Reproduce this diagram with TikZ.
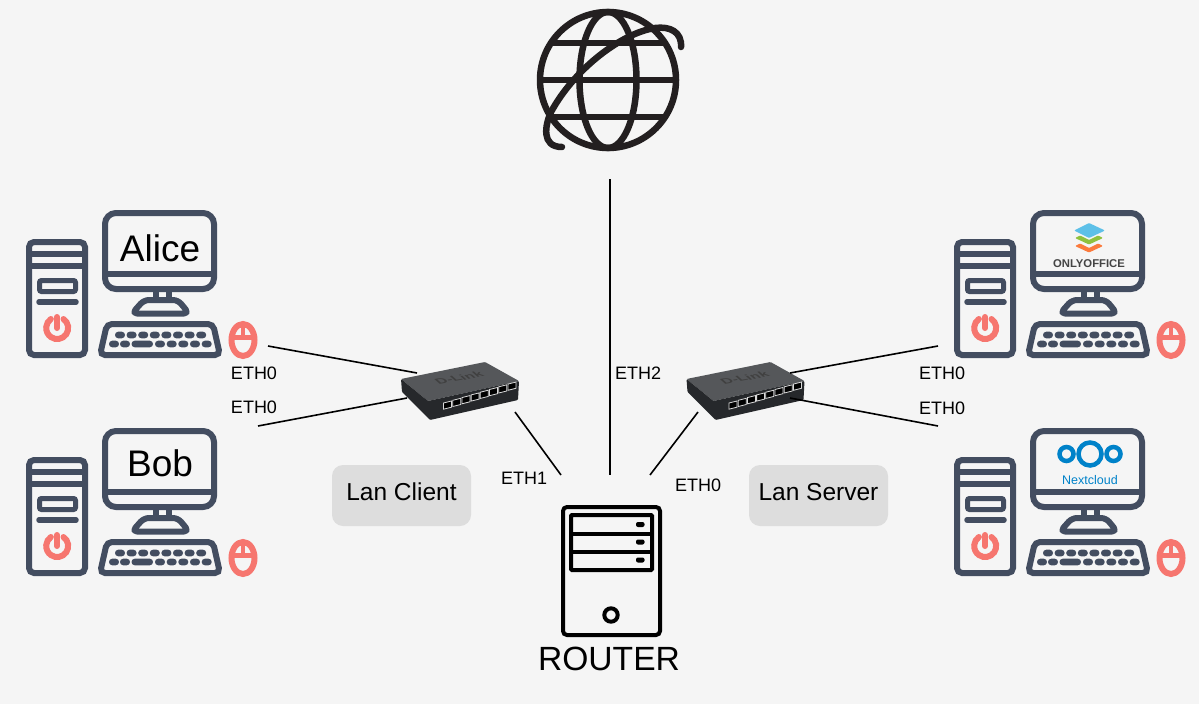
\documentclass[tikz,border=0pt]{standalone}
\usepackage{fontspec}
\setmainfont{Liberation Sans}
\usetikzlibrary{arrows.meta, shapes.geometric}
\definecolor{pageGrey}{HTML}{F5F5F5}
\definecolor{iconSlate}{HTML}{434D60}
\definecolor{iconPink}{HTML}{F6766F}
\definecolor{iconBlack}{HTML}{231F20}
\definecolor{lanGrey}{HTML}{DDDDDD}
\definecolor{officeBlue}{HTML}{5DC0E8}
\definecolor{officeGreen}{HTML}{8FC13E}
\definecolor{officeOrange}{HTML}{FB7A3C}
\definecolor{officeText}{HTML}{444444}
\definecolor{cloudBlue}{HTML}{0082C9}
\definecolor{switchTop}{HTML}{55575A}
\definecolor{switchFront}{HTML}{26282B}
\tikzset{
    slate/.style={draw=iconSlate, line width=6pt},
    pink/.style={draw=iconPink, line width=6pt},
    keycap/.style={fill=iconSlate, rounded corners=3.2pt},
    pics/computer/.style={code={
        % Tower
        \draw[slate, rounded corners=5pt] (29,242) rectangle (85,355);
        \draw[slate] (29,254) -- (85,254) (29,266) -- (85,266);
        \draw[draw=iconSlate, line width=5pt, rounded corners=2pt] (39.5,280.5) rectangle (75.5,291.5);
        \draw[draw=iconSlate, line width=5.5pt, line cap=round] (39,302) -- (76,302);
        \draw[pink, line cap=round] (63.5,319) arc[start angle=55, end angle=-235, radius=11pt];
        \draw[pink, line cap=round] (57,317) -- (57,328);
        % Monitor
        \draw[slate, rounded corners=11pt] (105,213) rectangle (214,289);
        \draw[slate] (105,274) -- (214,274);
        \draw[slate] (156,290) -- (156,299) (169,290) -- (169,299);
        \draw[slate, line join=round, rounded corners=5pt] (132,313.5) -- (144,300) -- (178,300) -- (189,313.5) -- cycle;
        % Keyboard
        \draw[slate, rounded corners=5pt] (107,324) -- (213,324) -- (220,355) -- (100,355) -- cycle;
        \foreach \x in {120,131.6,...,202}
            \fill[keycap] (\x-5,331.7) rectangle (\x+5,338.3);
        \foreach \x in {114,125,160,171.7,183.3,195,206.7}
            \fill[keycap] (\x-5,340.7) rectangle (\x+5,347.3);
        \fill[keycap] (131.5,340.7) rectangle (153,347.3);
        % Mouse
        \draw[pink] (243,340) ellipse[x radius=11.5pt, y radius=16pt];
        \draw[draw=iconPink, line width=4pt] (243,326) -- (243,336);
        \draw[draw=iconPink, line width=5pt] (232,337.5) -- (254,337.5);
    }},
    pics/lanswitch/.style={code={
        \fill[switchTop, rounded corners=1pt] (401,379) -- (485,362) -- (519,381) -- (428,401) -- cycle;
        \fill[switchFront, rounded corners=1pt] (401,379) -- (428,401) -- (519,381) -- (518,400) -- (430,420) -- (402,392) -- cycle;
        \node[font=\fontsize{15}{17}\selectfont\bfseries, text=black!75, rotate=10, xslant=-0.8, yscale=0.55, inner sep=0pt] (-brand) at (459,378) {D-Link};
        \foreach \i in {0,...,7}
            \filldraw[draw=black!15, fill=black, line width=0.8pt] (443.5+9.2*\i,403-2.7*\i) -- ++(8,-2) -- ++(0,6.2) -- ++(-8,2) -- cycle;
    }}
}
\begin{document}
\begin{tikzpicture}[
    x=1pt, y=-1pt,
    link/.style={draw=black, line width=1.6pt},
    ethlabel/.style={font=\fontsize{18}{21}\selectfont, inner sep=0pt},
    screen/.style={font=\fontsize{37}{44}\selectfont, inner sep=0pt},
    lanbox/.style={fill=lanGrey, rounded corners=11pt, minimum width=139pt, minimum height=61pt, text depth=7pt, font=\fontsize{24.5}{29}\selectfont, inner sep=0pt},
    globeline/.style={draw=iconBlack, line width=6.5pt}
]
    \useasboundingbox (0,0) rectangle (1199,704);
    \fill[pageGrey] (0,0) rectangle (1199,704);

    % Computers
    \pic (alice) at (0,0) {computer};
    \pic (bob) at (0,218) {computer};
    \pic (office) at (928,0) {computer};
    \pic (cloud) at (928,218) {computer};
    \node[screen] (aliceName) at (160,248) {Alice};
    \node[screen] (bobName) at (160,463) {Bob};

    % Onlyoffice logo
    \fill[officeOrange, rounded corners=1pt] (1075,246) -- (1080,243.5) -- (1089,248) -- (1098,243.5) -- (1103,246) -- (1089,252.5) -- cycle;
    \fill[officeGreen, rounded corners=1pt] (1075,238) -- (1080,235.5) -- (1089,240) -- (1098,235.5) -- (1103,238) -- (1089,244.5) -- cycle;
    \fill[officeBlue, rounded corners=1pt] (1074,230.5) -- (1089,223) -- (1105,230.5) -- (1089,238) -- cycle;
    \node[font=\fontsize{11.3}{13}\selectfont\bfseries, text=officeText, inner sep=0pt] (officeName) at (1089,264) {ONLYOFFICE};

    % Nextcloud logo
    \draw[cloudBlue, line width=4.5pt] (1090,454) circle[radius=11.5pt];
    \draw[cloudBlue, line width=4.5pt] (1066.5,454) circle[radius=7pt];
    \draw[cloudBlue, line width=4.5pt] (1113.5,454) circle[radius=7pt];
    \node[font=\fontsize{12.5}{15}\selectfont, text=cloudBlue, inner sep=0pt] (cloudName) at (1090,480) {Nextcloud};

    % Globe
    \draw[globeline] (608,80) circle[radius=68pt];
    \draw[globeline] (608,80) ellipse[x radius=28.5pt, y radius=68pt];
    \draw[globeline] (551,43) -- (665,43) (540,80) -- (676,80) (551,117) -- (665,117);
    \draw[globeline, line cap=round] (681,47) .. controls (682,32) and (670,26) .. (655,28)
        .. controls (622,33) and (575,68) .. (551,112)
        .. controls (545,125) and (541,147) .. (562,147);

    % Router
    \draw[draw=black, line width=4pt, rounded corners=4pt] (563,507) rectangle (660,635);
    \draw[draw=black, line width=4pt, rounded corners=1pt] (571,515) rectangle (652,570);
    \draw[draw=black, line width=4pt] (571,533.5) -- (652,533.5) (571,552) -- (652,552);
    \foreach \y in {524.5,542,560}
        \fill[black, rounded corners=2pt] (636,\y-2.5) rectangle (644.5,\y+2.5);
    \draw[draw=black, line width=4pt] (611,615) circle[radius=6.7pt];
    \node[font=\fontsize{33.6}{40}\selectfont, inner sep=0pt] (routerName) at (609,659) {ROUTER};

    % Switches
    \pic (switchClient) at (0,0) {lanswitch};
    \pic (switchServer) at (285.5,0) {lanswitch};

    % Connector ends
    \coordinate (alicePort) at (268,346);
    \coordinate (bobPort) at (258,426);
    \coordinate (officePort) at (938,346);
    \coordinate (cloudPort) at (938,426);
    \coordinate (clientUp) at (417,373);
    \coordinate (clientLow) at (407,398);
    \coordinate (clientOut) at (515,412);
    \coordinate (serverUp) at (790,373);
    \coordinate (serverLow) at (790,398);
    \coordinate (serverOut) at (698,412);
    \coordinate (globePort) at (610,179);
    \coordinate (routerLeft) at (561,475);
    \coordinate (routerMid) at (610,475);
    \coordinate (routerRight) at (650,475);

    % Links
    \path[link] (alicePort) edge (clientUp)
          (bobPort) edge (clientLow)
          (clientOut) edge (routerLeft)
          (globePort) edge (routerMid)
          (serverOut) edge (routerRight)
          (officePort) edge (serverUp)
          (cloudPort) edge (serverLow);

    % Port labels
    \node[ethlabel] (ethAlice) at (254,373) {ETH0};
    \node[ethlabel] (ethBob) at (254,407) {ETH0};
    \node[ethlabel] (ethClient) at (524,478) {ETH1};
    \node[ethlabel] (ethGlobe) at (638,373) {ETH2};
    \node[ethlabel] (ethServer) at (698,485) {ETH0};
    \node[ethlabel] (ethOffice) at (942,373) {ETH0};
    \node[ethlabel] (ethCloud) at (942,408) {ETH0};

    % Lan boxes
    \node[lanbox] (lanClient) at (401.5,495.5) {Lan Client};
    \node[lanbox] (lanServer) at (818.5,495.5) {Lan Server};
\end{tikzpicture}
\end{document}
